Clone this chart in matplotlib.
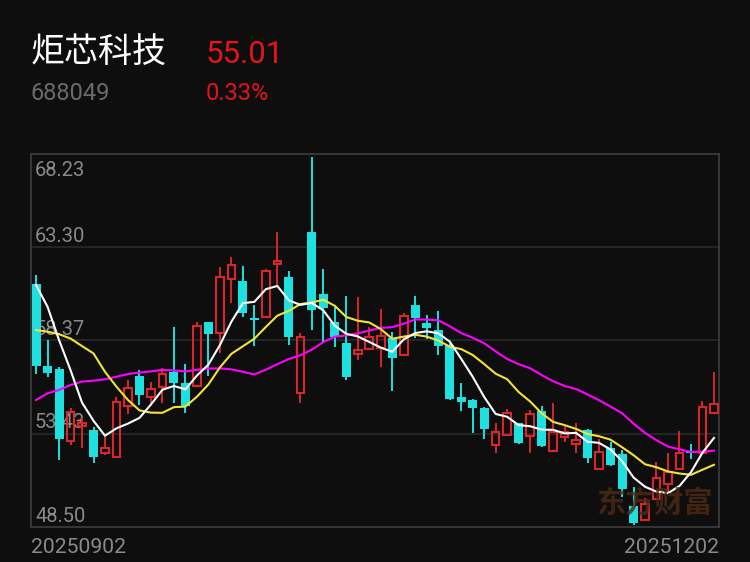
import numpy as np
import matplotlib
matplotlib.use("Agg")
import matplotlib.pyplot as plt

# daily k-line, 2025-09-02 .. 2025-12-02
opens = [61.35, 57.02, 56.86, 53.05, 53.84, 53.63, 52.43, 52.22, 54.90, 56.49, 55.39, 55.89, 56.71, 56.13, 55.96, 59.33, 58.75, 61.62, 61.51, 59.54,
         59.63, 62.40, 61.70, 55.57, 64.12, 60.81, 59.36, 58.22, 57.65, 57.90, 57.95, 58.48, 57.60, 60.24, 59.28, 58.92, 58.13, 55.39, 55.22, 54.81,
         52.84, 53.37, 53.98, 53.31, 54.64, 52.54, 53.24, 52.87, 53.63, 51.57, 52.66, 52.36, 49.63, 48.87, 49.98, 50.77, 51.57, 52.48, 52.43, 54.51]
highs = [61.83, 58.39, 56.96, 54.79, 54.29, 53.80, 53.31, 55.39, 56.27, 56.80, 56.17, 56.91, 59.09, 57.12, 59.36, 59.33, 62.27, 62.78, 62.31, 60.24,
         62.15, 64.12, 62.04, 58.78, 68.09, 62.13, 60.15, 60.72, 60.65, 59.09, 60.03, 58.81, 59.80, 60.72, 59.71, 59.92, 58.23, 56.13, 55.25, 54.85,
         53.98, 54.72, 54.00, 54.69, 54.90, 55.04, 53.89, 54.01, 53.70, 53.14, 53.01, 52.57, 50.60, 50.02, 51.95, 52.40, 53.58, 52.87, 55.18, 56.68]
lows = [56.59, 56.43, 52.04, 52.84, 52.68, 51.89, 52.31, 52.22, 54.48, 54.95, 55.06, 55.06, 55.06, 54.55, 55.89, 56.49, 57.72, 60.36, 59.59, 58.07,
        59.63, 61.30, 58.13, 55.04, 58.92, 58.25, 58.04, 56.27, 57.33, 57.86, 56.95, 55.71, 57.60, 58.50, 58.43, 57.60, 55.22, 54.65, 53.45, 53.14,
        52.43, 53.31, 52.90, 52.40, 52.75, 52.48, 53.01, 52.40, 51.87, 51.57, 51.75, 50.10, 48.61, 48.87, 49.98, 50.28, 51.57, 52.08, 52.43, 54.51]
closes = [57.02, 56.65, 53.15, 54.60, 54.00, 52.22, 52.66, 55.13, 55.84, 55.48, 55.78, 56.58, 56.13, 54.91, 59.13, 58.71, 61.71, 62.36, 59.80, 59.46,
          62.06, 62.57, 58.57, 58.57, 59.98, 60.10, 58.53, 56.42, 57.86, 58.53, 58.60, 57.42, 59.68, 59.55, 59.01, 58.07, 55.25, 55.13, 54.78, 53.68,
          53.54, 54.51, 52.93, 54.48, 52.79, 53.51, 53.54, 53.10, 52.13, 52.45, 51.78, 50.49, 48.73, 49.72, 51.11, 51.39, 52.40, 52.40, 54.86, 55.01]

# moving averages as shown on the chart
ma5 = [61.30, 60.15, 58.39, 56.80, 55.08, 54.12, 53.33, 53.72, 53.97, 54.27, 54.98, 55.76, 55.96, 55.78, 56.51, 57.09, 58.12, 59.36, 60.34, 60.41,
       61.08, 61.25, 60.49, 60.25, 60.35, 59.96, 59.15, 58.72, 58.58, 58.29, 57.99, 57.77, 58.42, 58.76, 58.85, 58.75, 58.31, 57.40, 56.45, 55.38,
       54.48, 54.33, 53.89, 53.83, 53.65, 53.64, 53.45, 53.48, 53.01, 52.95, 52.60, 51.99, 51.12, 50.63, 50.37, 50.29, 50.67, 51.40, 52.43, 53.21]
ma10 = [58.92, 58.83, 58.70, 58.47, 58.07, 57.68, 56.71, 55.92, 55.22, 54.67, 54.55, 54.54, 54.84, 54.87, 55.39, 56.04, 56.94, 57.66, 58.06, 58.46,
        59.08, 59.68, 59.93, 60.29, 60.38, 60.52, 60.20, 59.61, 59.41, 59.32, 58.97, 58.46, 58.57, 58.67, 58.57, 58.37, 58.04, 57.91, 57.60, 57.12,
        56.61, 56.32, 55.64, 55.14, 54.52, 54.06, 53.89, 53.69, 53.42, 53.30, 53.12, 52.72, 52.30, 51.82, 51.66, 51.44, 51.33, 51.26, 51.53, 51.79]
ma20 = [55.22, 55.57, 55.75, 56.01, 56.19, 56.24, 56.31, 56.45, 56.59, 56.67, 56.73, 56.81, 56.78, 56.73, 56.81, 56.88, 56.89, 56.84, 56.71, 56.57,
        56.82, 57.11, 57.39, 57.58, 57.88, 58.28, 58.57, 58.63, 58.74, 58.89, 59.03, 59.07, 59.25, 59.48, 59.47, 59.44, 59.12, 58.76, 58.51, 58.22,
        57.79, 57.39, 57.11, 56.90, 56.54, 56.21, 55.96, 55.80, 55.51, 55.21, 54.87, 54.52, 53.97, 53.48, 53.09, 52.75, 52.61, 52.47, 52.48, 52.54]

yticks = [68.23, 63.30, 58.37, 53.43, 48.50]
date_first, date_last = "20250902", "20251202"
name, code = "炬芯科技", "688049"
last_price, pct = "55.01", "0.33%"

BG = "#0e0e0e"
RED = "#d8262a"
CYAN = "#1ee0e0"
GRID = "#2a2a2a"
BORDER = "#3a3a3a"
LABEL = "#8a8a8a"

fig = plt.figure(figsize=(7.5, 5.62), dpi=100, facecolor=BG)
W, H = 750, 562
ax = fig.add_axes([31 / W, 1 - 527 / H, 688 / W, 373 / H], facecolor=BG)

o = np.array(opens); h = np.array(highs); l = np.array(lows); c = np.array(closes)
x = np.arange(len(c))
up = c >= o
wbody = 0.78
top = np.maximum(o, c); bot = np.minimum(o, c)
hgt = np.maximum(top - bot, 0.06)

# wicks (red ones stop at the hollow body)
ax.vlines(x[~up], l[~up], h[~up], color=CYAN, lw=1.4, zorder=2)
ax.vlines(x[up], top[up], h[up], color=RED, lw=1.4, zorder=2)
ax.vlines(x[up], l[up], bot[up], color=RED, lw=1.4, zorder=2)
ax.bar(x[~up], hgt[~up], wbody, bottom=bot[~up], color=CYAN, lw=0, zorder=3)
ax.bar(x[up], hgt[up], wbody - 0.12, bottom=bot[up], facecolor="none", edgecolor=RED, lw=1.5, zorder=3)

ax.plot(x, ma20, color="#ff00ff", lw=1.5, zorder=4)
ax.plot(x, ma10, color="#f2e33a", lw=1.5, zorder=4)
ax.plot(x, ma5, color="white", lw=1.5, zorder=5)

ax.set_xlim(-0.44, len(c) - 0.56)
ax.set_ylim(yticks[-1], yticks[0])
for v in yticks[1:-1]:
    ax.axhline(v, color=GRID, lw=1.2, zorder=1)
ax.set_xticks([]); ax.set_yticks([])
for s in ax.spines.values():
    s.set_color(BORDER); s.set_linewidth(1.3)

num_font = "Roboto"
ppu = 373 / (yticks[0] - yticks[-1])  # pixels per price unit
for v in yticks:
    yy = v - 22 / ppu if v == yticks[0] else v + 5.5 / ppu
    ax.text(4 / 688, yy, "%.2f" % v, transform=ax.get_yaxis_transform(), color=LABEL,
            fontsize=14.5, family=num_font, va="baseline", ha="left", zorder=1.5)

fig.text(31 / W, 1 - 52 / H, name, color="white", fontsize=24.5, family="Noto Sans CJK SC", va="center", ha="left")
fig.text(206 / W, 1 - 63.5 / H, last_price, color="#e5131b", fontsize=22.5, family=num_font, va="baseline", ha="left")
fig.text(31 / W, 1 - 99.5 / H, code, color="#6a6a6a", fontsize=17, family=num_font, va="baseline", ha="left")
fig.text(206 / W, 1 - 99.5 / H, pct, color="#e5131b", fontsize=17, family=num_font, va="baseline", ha="left")
fig.text(31 / W, 1 - 553 / H, date_first, color=LABEL, fontsize=15.2, family=num_font, va="baseline", ha="left")
fig.text(719 / W, 1 - 553 / H, date_last, color=LABEL, fontsize=15.2, family=num_font, va="baseline", ha="right")

# watermark
fig.text(654 / W, 1 - 503 / H, "东方财富", color="#4e2a14", alpha=0.8, fontsize=21, fontweight="bold",
         family="Noto Sans CJK SC", va="center", ha="center", zorder=10)

fig.savefig("out.png", facecolor=BG)
